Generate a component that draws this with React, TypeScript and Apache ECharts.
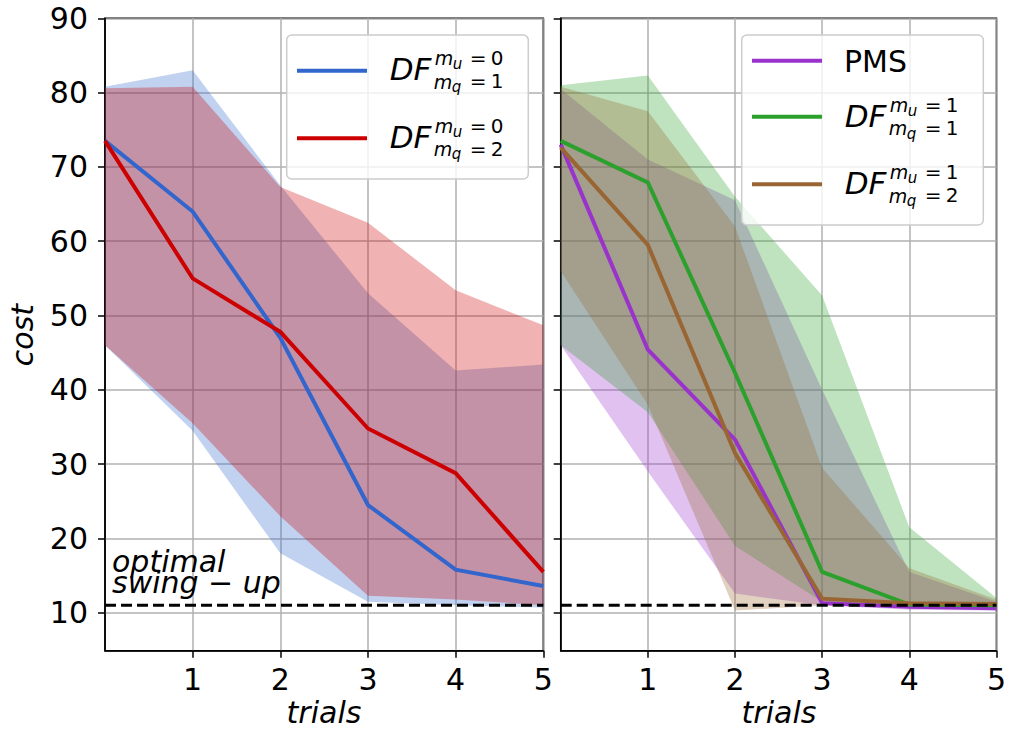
import React, { useEffect, useRef } from "react";
import * as echarts from "echarts";

// ---------- data ----------
const trials = [0, 1, 2, 3, 4, 5];
const xTickValues = [1, 2, 3, 4, 5];
const yTickValues = [10, 20, 30, 40, 50, 60, 70, 80, 90];
const optimalCost = 11;

// left panel: DF mu=0, mq=1 (blue) and mq=2 (red)
const dfU0Q1Mean = [73.5, 64.0, 47.0, 24.5, 15.8, 13.6];
const dfU0Q1Upper = [80.8, 83.0, 67.5, 53.0, 42.6, 43.4];
const dfU0Q1Lower = [46.0, 34.5, 18.0, 11.5, 11.0, 10.7];
const dfU0Q2Mean = [73.5, 55.0, 47.8, 34.8, 28.8, 15.5];
const dfU0Q2Upper = [80.6, 80.8, 67.3, 62.5, 53.4, 48.7];
const dfU0Q2Lower = [46.0, 35.5, 23.0, 12.3, 11.8, 11.0];

// right panel: PMS (purple), DF mu=1 mq=1 (green), DF mu=1 mq=2 (brown)
const pmsMean = [73.0, 45.4, 33.3, 11.3, 10.8, 10.6];
const pmsUpper = [80.5, 71.0, 65.5, 40.0, 15.5, 11.5];
const pmsLower = [46.0, 29.0, 12.6, 11.0, 10.4, 10.3];
const dfU1Q1Mean = [73.5, 67.9, 42.3, 15.5, 11.1, 11.0];
const dfU1Q1Upper = [81.0, 82.3, 66.0, 52.7, 21.5, 12.0];
const dfU1Q1Lower = [46.0, 37.0, 19.0, 11.5, 10.9, 10.8];
const dfU1Q2Mean = [72.6, 59.5, 31.5, 11.9, 11.3, 11.2];
const dfU1Q2Upper = [80.8, 77.5, 62.0, 29.5, 16.0, 11.8];
const dfU1Q2Lower = [56.0, 38.0, 10.3, 11.0, 10.7, 10.6];

// ---------- styling ----------
const FONT = "DejaVu Sans";
const BLUE = "#3366cc";
const RED = "#cc0000";
const PURPLE = "#9933cc";
const GREEN = "#2ca02c";
const BROWN = "#996633";

function rgba(hex: string, a: number) {
  const n = parseInt(hex.slice(1), 16);
  return `rgba(${(n >> 16) & 255},${(n >> 8) & 255},${n & 255},${a})`;
}

function band(gi: number, upper: number[], lower: number[], color: string) {
  return {
    type: "custom",
    xAxisIndex: gi,
    yAxisIndex: gi,
    silent: true,
    z: 1,
    data: trials.map((t, i) => [t, lower[i], upper[i]]),
    encode: { x: 0, y: [1, 2] },
    renderItem: (params: any, api: any) => {
      if (params.dataIndex !== 0) return null;
      const pts: number[][] = [];
      for (let i = 0; i < trials.length; i++) pts.push(api.coord([trials[i], upper[i]]));
      for (let i = trials.length - 1; i >= 0; i--) pts.push(api.coord([trials[i], lower[i]]));
      return { type: "polygon", shape: { points: pts }, style: { fill: rgba(color, 0.3), stroke: "none" } };
    },
  };
}

function meanLine(gi: number, mean: number[], color: string) {
  return {
    type: "line",
    xAxisIndex: gi,
    yAxisIndex: gi,
    z: 3,
    symbol: "none",
    silent: true,
    data: trials.map((t, i) => [t, mean[i]]),
    lineStyle: { color, width: 4, cap: "butt", join: "miter" },
  };
}

function optimalLine(gi: number) {
  return {
    type: "line",
    xAxisIndex: gi,
    yAxisIndex: gi,
    z: 4,
    symbol: "none",
    silent: true,
    data: [
      [trials[0], optimalCost],
      [trials[trials.length - 1], optimalCost],
    ],
    lineStyle: { color: "#000", width: 3, type: [11, 5] },
  };
}

// text whose alphabetic baseline is at `baseline`
function txt(x: number, baseline: number, text: string, fs: number, italic: boolean, align = "left", extra: any = {}) {
  return {
    type: "text",
    x,
    y: baseline - 0.346 * fs,
    z: 101,
    silent: true,
    style: {
      text,
      fontSize: fs,
      fontFamily: FONT,
      fontStyle: italic ? "italic" : "normal",
      fill: "#000",
      align,
      verticalAlign: "middle",
    },
    ...extra,
  };
}

function dfLabel(x: number, baseline: number, mu: string, mq: string) {
  return [
    txt(x - 2, baseline, "DF", 31, true),
    // superscript m_u = mu
    txt(x + 43, baseline - 15, "m", 19, true),
    txt(x + 61, baseline - 10.5, "u", 15, true),
    txt(x + 78, baseline - 15, "=", 20, false),
    txt(x + 99, baseline - 15, mu, 20, false),
    // subscript m_q = mq
    txt(x + 42, baseline + 8.3, "m", 19, true),
    txt(x + 60, baseline + 12, "q", 15, true),
    txt(x + 78, baseline + 8.3, "=", 20, false),
    txt(x + 99, baseline + 8.3, mq, 20, false),
  ];
}

function legendLine(x1: number, x2: number, y: number, color: string) {
  return {
    type: "line",
    z: 101,
    silent: true,
    shape: { x1, y1: y, x2, y2: y },
    style: { stroke: color, lineWidth: 4 },
  };
}

function legendBox(x: number, y: number, w: number, h: number) {
  return {
    type: "rect",
    z: 100,
    silent: true,
    shape: { x, y, width: w, height: h, r: 5 },
    style: { fill: "rgba(255,255,255,0.8)", stroke: "#cccccc", lineWidth: 1.5 },
  };
}

const GRID_TOP = 18.3;
const GRID_H = 632.4;

function xAxis(gi: number) {
  return {
    gridIndex: gi,
    type: "value",
    min: 0,
    max: 5,
    interval: 1,
    axisLine: { show: true, onZero: false, lineStyle: { color: "#000", width: 1.5 } },
    axisTick: { show: true, length: 7, customValues: xTickValues, lineStyle: { color: "#000", width: 1.5 } },
    axisLabel: {
      customValues: xTickValues,
      fontSize: 30,
      fontFamily: FONT,
      color: "#000",
      margin: 14,
      formatter: (v: number) => (v === 0 ? "" : String(v)),
    },
    splitLine: { show: true, lineStyle: { color: "#b0b0b0", width: 1.5 } },
  };
}

function yAxis(gi: number, labels: boolean) {
  return {
    gridIndex: gi,
    type: "value",
    min: 4.9,
    max: 90,
    splitNumber: 9,
    axisLine: { show: true, onZero: false, lineStyle: { color: "#000", width: 1.5 } },
    axisTick: { show: true, length: 7, customValues: yTickValues, lineStyle: { color: "#000", width: 1.5 } },
    axisLabel: {
      show: labels,
      customValues: yTickValues,
      fontSize: 30,
      fontFamily: FONT,
      color: "#000",
      margin: 17,
    },
    splitLine: { show: true, lineStyle: { color: "#b0b0b0", width: 1.5 } },
  };
}

const option: any = {
  animation: false,
  backgroundColor: "#ffffff",
  grid: [
    { left: 105, top: GRID_TOP, width: 438.3, height: GRID_H, show: true, borderColor: "#000", borderWidth: 1.5, backgroundColor: "transparent" },
    { left: 560.7, top: GRID_TOP, width: 437.6, height: GRID_H, show: true, borderColor: "#000", borderWidth: 1.5, backgroundColor: "transparent" },
  ],
  xAxis: [xAxis(0), xAxis(1)],
  yAxis: [yAxis(0, true), yAxis(1, false)],
  series: [
    band(0, dfU0Q1Upper, dfU0Q1Lower, BLUE),
    band(0, dfU0Q2Upper, dfU0Q2Lower, RED),
    meanLine(0, dfU0Q1Mean, BLUE),
    meanLine(0, dfU0Q2Mean, RED),
    optimalLine(0),
    band(1, pmsUpper, pmsLower, PURPLE),
    band(1, dfU1Q1Upper, dfU1Q1Lower, GREEN),
    band(1, dfU1Q2Upper, dfU1Q2Lower, BROWN),
    meanLine(1, pmsMean, PURPLE),
    meanLine(1, dfU1Q1Mean, GREEN),
    meanLine(1, dfU1Q2Mean, BROWN),
    optimalLine(1),
  ],
  graphic: [
    // axis names
    txt(22.9 + 0.346 * 30, 335, "cost", 30, true, "center", { rotation: Math.PI / 2, x: 22.9, y: 335 }),
    txt(324, 723, "trials", 30, true, "center"),
    txt(779, 723, "trials", 30, true, "center"),
    // annotation
    txt(112, 571.7, "optimal", 30, true),
    txt(112, 593.3, "swing \u2212 up", 30, true),
    // left legend
    legendBox(286.7, 35, 241.6, 144),
    legendLine(297, 367, 70.7, BLUE),
    legendLine(297, 367, 138.3, RED),
    ...dfLabel(391.7, 80, "0", "1"),
    ...dfLabel(391.7, 147.6, "0", "2"),
    // right legend
    legendBox(741.7, 35, 241.6, 190),
    legendLine(752, 822, 60.7, PURPLE),
    legendLine(752, 822, 116.7, GREEN),
    legendLine(752, 822, 184.3, BROWN),
    txt(844, 71.7, "PMS", 30, false),
    ...dfLabel(846.7, 126.7, "1", "1"),
    ...dfLabel(846.7, 193.8, "1", "2"),
  ],
};

export default function App() {
  const ref = useRef<HTMLDivElement>(null);
  useEffect(() => {
    const chart = echarts.init(ref.current!, null, { renderer: "svg" });
    chart.setOption(option);
    return () => chart.dispose();
  }, []);
  return (
    <div
      ref={ref}
      style={{ position: "fixed", left: 0, top: 0, width: 1009, height: 738, background: "#fff" }}
    />
  );
}
